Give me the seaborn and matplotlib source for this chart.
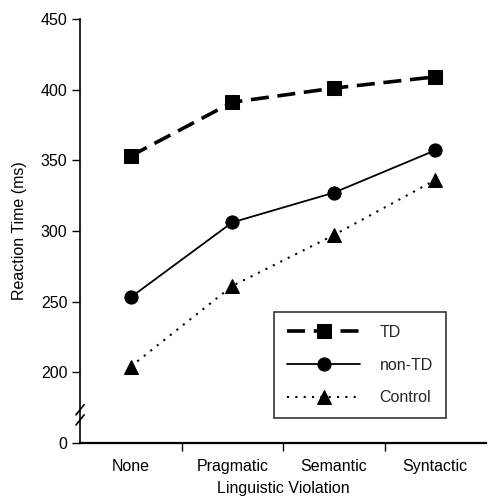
import matplotlib
matplotlib.use("Agg")
import matplotlib.pyplot as plt
import seaborn as sns
import pandas as pd
import numpy as np

categories = ["None", "Pragmatic", "Semantic", "Syntactic"]
td = [353, 391, 401, 409]
non_td = [253, 306, 327, 357]
control = [204, 261, 297, 336]
y_ticks = [0, 200, 250, 300, 350, 400, 450]

BREAK_LOW = 150  # display position for the broken-axis "0"

def to_display(v):
    v = np.asarray(v, dtype=float)
    return np.where(v >= 200, v, BREAK_LOW)

sns.set_theme(style="ticks")
plt.rcParams['font.family'] = ['Liberation Sans', 'DejaVu Sans']
FS = 11.5

fig = plt.figure(figsize=(4.88, 4.97), dpi=100)
ax = fig.add_axes([0.164, 0.109, 0.832, 0.853])

df = pd.DataFrame({
    "x": list(range(4)) * 3,
    "cat": categories * 3,
    "rt": td + non_td + control,
    "group": ["TD"] * 4 + ["non-TD"] * 4 + ["Control"] * 4,
})
df["disp"] = to_display(df["rt"])

styles = {
    "TD": dict(marker="s", lw=2.6, ls=(0, (5.0, 2.4)), ms=9.5),
    "non-TD": dict(marker="o", lw=1.3, ls="-", ms=9.5),
    "Control": dict(marker="^", lw=1.5, ls=(0, (1, 3)), ms=9.5),
}
for g, st in styles.items():
    sub = df[df["group"] == g]
    sns.lineplot(data=sub, x="x", y="disp", ax=ax, color="black",
                 linewidth=st["lw"], linestyle=st["ls"], marker=st["marker"],
                 markersize=st["ms"], markeredgecolor="black", markerfacecolor="black",
                 label=g, legend=False)

ax.set_xlim(-0.5, 3.5)
ax.set_ylim(BREAK_LOW, 450)
ax.set_yticks([BREAK_LOW] + y_ticks[1:])
ax.set_yticklabels([str(t) for t in y_ticks])
ax.set_xticks([0.5, 1.5, 2.5])
ax.set_xticklabels([])
ax.set_xticks(range(4), minor=True)
ax.set_xticklabels(categories, minor=True)
ax.tick_params(axis="x", which="minor", length=0, labelsize=FS, pad=12, colors="black")
ax.tick_params(axis="x", which="major", length=6, width=1, direction="out", color="black")
ax.tick_params(axis="y", length=6, width=1, direction="out", labelsize=FS, color="black", labelcolor="black", pad=3)

for s in ["top", "right"]:
    ax.spines[s].set_visible(False)
ax.spines["left"].set_color("black")
ax.spines["bottom"].set_color("black")
ax.spines["left"].set_linewidth(1.2)
ax.spines["bottom"].set_linewidth(1.6)

ax.set_xlabel("Linguistic Violation", fontsize=FS, color="black", labelpad=5)
ax.set_ylabel("Reaction Time (ms)", fontsize=FS, color="black", labelpad=10)

# axis break marks
for yb in [0.078, 0.054]:
    ax.plot([-0.010, 0.010], [yb - 0.012, yb + 0.012], transform=ax.transAxes,
            color="black", lw=1.2, clip_on=False)

leg = ax.legend(loc="lower right", bbox_to_anchor=(0.92, 0.04), frameon=True,
                fancybox=False, edgecolor="black", handlelength=4.6,
                fontsize=FS, borderpad=0.8, labelspacing=1.1, handletextpad=1.2)
leg.get_frame().set_linewidth(1.2)

fig.savefig("out.png", dpi=100)
